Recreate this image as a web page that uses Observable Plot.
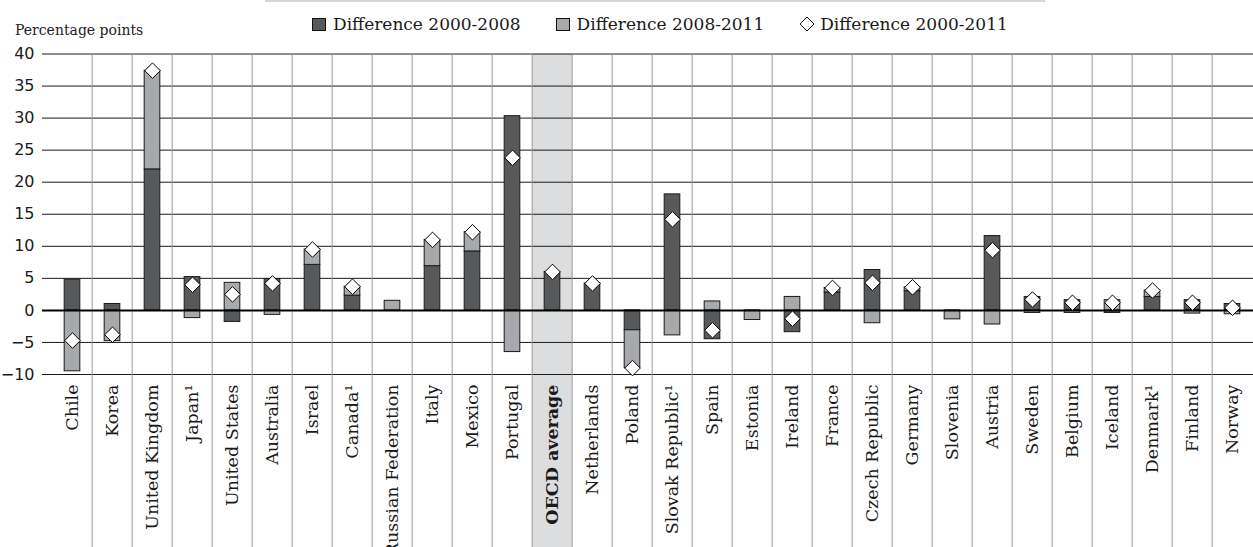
<!DOCTYPE html>
<html>
<head>
<meta charset="utf-8">
<script src="https://cdn.jsdelivr.net/npm/d3@7"></script>
<script src="https://cdn.jsdelivr.net/npm/@observablehq/plot@0.6"></script>
<style>
html, body { margin: 0; padding: 0; background: #fff; }
body { width: 1253px; height: 547px; overflow: hidden; font-family: "DejaVu Serif", serif; color: #1a1a1a; }
#head { position: relative; height: 44px; }
#unit { position: absolute; left: 15px; top: 22px; font-size: 14px; line-height: 16px; color: #222; }
#legend { position: absolute; left: 265px; top: 0; width: 780px; height: 46px; border-top: 2px solid #d6d6d6; box-sizing: border-box;
  display: flex; align-items: center; justify-content: flex-start; padding-left: 47px; gap: 35px; font-size: 17px; }
#legend .item { display: flex; align-items: center; gap: 7px; white-space: nowrap; }
#legend .sw { width: 12px; height: 11px; border: 1px solid #111; }
#chart svg { display: block; }
</style>
</head>
<body>
<div id="head">
  <div id="unit">Percentage points</div>
  <div id="legend"></div>
</div>
<div id="chart"></div>
<script>
// ---- data ----
const categories = ["Chile","Korea","United Kingdom","Japan¹","United States","Australia","Israel","Canada¹","Russian Federation","Italy","Mexico","Portugal","OECD average","Netherlands","Poland","Slovak Republic¹","Spain","Estonia","Ireland","France","Czech Republic","Germany","Slovenia","Austria","Sweden","Belgium","Iceland","Denmark¹","Finland","Norway"];
const diff2000_2008 = [4.8, 1.0, 22.0, 5.2, -1.8, 4.9, 7.1, 2.3, null, 6.9, 9.2, 30.3, 6.0, 4.2, -3.1, 18.1, -4.5, null, -3.4, 2.8, 6.3, 3.0, null, 11.6, 2.1, 1.6, -0.4, 2.1, 1.6, 1.0];
const diff2008_2011 = [-9.5, -4.8, 15.4, -1.2, 4.3, -0.7, 2.4, 1.4, 1.5, 4.1, 3.0, -6.5, null, null, -5.9, -3.9, 1.4, -1.5, 2.1, 0.7, -2.0, 0.6, -1.4, -2.2, -0.4, -0.4, 1.6, 1.0, -0.5, -0.6];
const diff2000_2011 = [-4.7, -3.8, 37.4, 4.0, 2.5, 4.2, 9.5, 3.7, null, 11.0, 12.2, 23.8, 6.0, 4.2, -9.0, 14.2, -3.1, null, -1.3, 3.5, 4.3, 3.6, null, 9.4, 1.7, 1.2, 1.2, 3.1, 1.2, 0.4];
const yTicks = [-10, -5, 0, 5, 10, 15, 20, 25, 30, 35, 40];
const seriesNames = ["Difference 2000-2008", "Difference 2008-2011", "Difference 2000-2011"];
const highlight = "OECD average";

// ---- styling ----
const darkGrey = "#58595b", lightGrey = "#a7a9ac", bandGrey = "#dcdddf";

// ---- legend ----
const legend = document.getElementById("legend");
[[seriesNames[0], darkGrey], [seriesNames[1], lightGrey]].forEach(([name, col]) => {
  const it = document.createElement("div"); it.className = "item";
  it.innerHTML = `<span class="sw" style="background:${col}"></span><span>${name}</span>`;
  legend.appendChild(it);
});
{
  const it = document.createElement("div"); it.className = "item";
  it.innerHTML = `<svg width="16" height="16" viewBox="0 0 16 16"><path d="M8 1L15 8L8 15L1 8Z" fill="#fff" stroke="#111" stroke-width="1"/></svg><span>${seriesNames[2]}</span>`;
  it.style.gap = "5px";
  legend.appendChild(it);
}

// ---- tidy tables ----
const stacked = [];
categories.forEach((c, i) => {
  if (diff2000_2008[i] != null) stacked.push({country: c, series: seriesNames[0], value: diff2000_2008[i]});
  if (diff2008_2011[i] != null) stacked.push({country: c, series: seriesNames[1], value: diff2008_2011[i]});
});
const totals = categories.map((c, i) => ({country: c, value: diff2000_2011[i]})).filter(d => d.value != null);

const W = 1253, H = 503, mTop = 9.5, mBottom = 173, xLeft = 42, xRight = 1262;
const step = (xRight - xLeft) / categories.length;
const barInset = (step - 16.3) / 2;

const chart = Plot.plot({
  width: W,
  height: H,
  marginTop: mTop,
  marginBottom: mBottom,
  marginLeft: xLeft,
  marginRight: 0,
  style: {fontFamily: "DejaVu Serif", background: "transparent", overflow: "visible"},
  x: {type: "band", domain: categories, range: [xLeft, xRight], padding: 0},
  y: {domain: [yTicks[0], yTicks[yTicks.length - 1]]},
  color: {domain: seriesNames.slice(0, 2), range: [darkGrey, lightGrey]},
  marks: [
    Plot.cell([highlight], {x: d => d, fill: bandGrey, insetBottom: -mBottom}),
    Plot.ruleY(yTicks.filter(v => v !== 0), {stroke: "#1a1a1a", strokeWidth: 1}),
    Plot.ruleX(categories.slice(1), {x: d => d, dx: -step / 2, stroke: "#9a9a9a", strokeWidth: 1, insetBottom: -mBottom}),
    Plot.barY(stacked, {x: "country", y: "value", fill: "series", stroke: "#1a1a1a", strokeWidth: 1, insetLeft: barInset, insetRight: barInset}),
    Plot.ruleY([0], {stroke: "#000", strokeWidth: 2}),
    Plot.dot(totals, {x: "country", y: "value", symbol: "diamond2", r: 7, fill: "#fff", stroke: "#000", strokeWidth: 1}),
    Plot.axisY(yTicks, {tickSize: 0, tickPadding: 8, label: null, fontFamily: "DejaVu Sans", fontSize: 16, fill: "#1a1a1a"}),
    Plot.axisX({tickRotate: -90, tickSize: 0, tickPadding: 10, label: null, fontFamily: "DejaVu Serif", fontSize: 17.5, fill: "#1a1a1a"})
  ]
});
document.getElementById("chart").appendChild(chart);
d3.select(chart).selectAll("text").filter(function () { return this.textContent === highlight; })
  .attr("font-weight", "bold");
</script>
</body>
</html>
